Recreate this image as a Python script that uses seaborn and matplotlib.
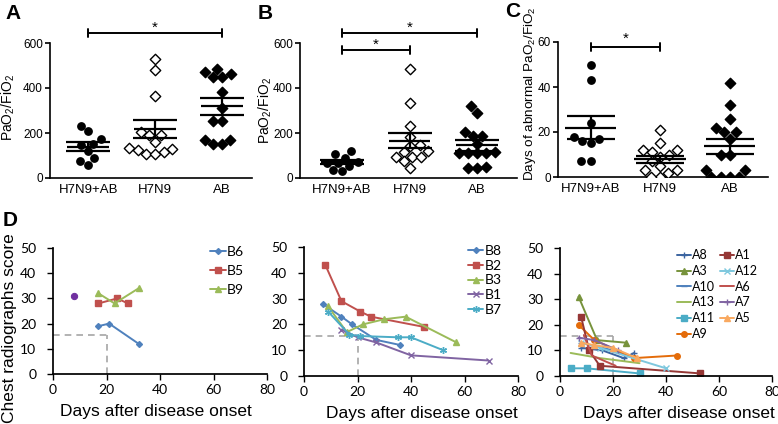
import numpy as np
import pandas as pd
import matplotlib
matplotlib.use("Agg")
import matplotlib.pyplot as plt
import seaborn as sns

# ---------------- data ----------------
groups = ["H7N9+AB", "H7N9", "AB"]

# A: PaO2/FiO2 at admission
a_h7n9_ab = [233, 207, 175, 151, 145, 119, 89, 77, 59]
a_h7n9 = [530, 480, 363, 205, 190, 190, 160, 135, 130, 125, 115, 105, 105]
a_ab = [470, 484, 450, 450, 460, 380, 310, 255, 255, 170, 170, 150, 150]

# B: lowest PaO2/FiO2
b_h7n9_ab = [122, 105, 90, 70, 68, 65, 55, 35, 33]
b_h7n9 = [486, 333, 233, 180, 145, 141, 114, 118, 95, 95, 95, 75, 45]
b_ab = [318, 289, 203, 185, 185, 150, 111, 111, 111, 111, 114, 47, 44, 44]

# C: days of abnormal PaO2/FiO2
c_h7n9_ab = [50, 43, 24, 18, 17, 16, 15, 7, 7]
c_h7n9 = [21, 15, 12, 12, 11, 10, 9, 7, 5, 3, 3, 2, 0, 0]
c_ab = [42, 32, 26, 22, 20, 20, 17, 10, 10, 3, 3, 0, 0, 0, 0]

# significance brackets: (from, to, height, star height)
a_sig = [(0, 2, 643, 668)]
b_sig = [(0, 2, 643, 668), (0, 1, 567, 592)]
c_sig = [(0, 1, 57.7, 61.5)]

# D: chest radiograph scores (days, score)
d1_series = {
    "B6": ([17, 21, 32], [19, 20, 12]),
    "B5": ([17, 24, 28], [28, 30, 28]),
    "B9": ([17, 23, 32], [32, 28, 34]),
}
d1_single = ([8], [31])

d2_series = {
    "B8": ([7, 14, 18, 27, 36], [28, 23, 20, 14, 12]),
    "B2": ([8, 14, 21, 25, 45], [43, 29, 25, 23, 19]),
    "B3": ([9, 16, 22, 30, 38, 57], [27, 17, 20, 22, 23, 13]),
    "B1": ([14, 20, 27, 40, 69], [18, 15, 13, 8, 6]),
    "B7": ([9, 17, 21, 35, 40, 52], [25, 16, 15.5, 15, 15, 10]),
}

d3_series = {
    "A8": ([8, 16, 24, 28], [11, 10, 7, 9]),
    "A3": ([7, 14, 25], [31, 14, 13]),
    "A10": ([8, 20, 28], [13, 10, 7]),
    "A13": ([4, 15, 30], [9, 7, 5]),
    "A11": ([4, 10, 30], [3, 3, 1]),
    "A9": ([7, 13, 28, 44], [20, 14, 7, 8]),
    "A1": ([8, 11, 15, 53], [23, 10, 4, 1]),
    "A12": ([8, 15, 40], [13, 11, 3]),
    "A6": ([9, 12, 21], [16, 8, 4]),
    "A7": ([7, 13, 22], [15, 14, 10]),
    "A5": ([8, 13, 20, 29], [13, 12, 11, 7]),
}
cutoff_day = 20
cutoff_score = 15.5

# ---------------- styling ----------------
sns.set_theme(style="ticks")
plt.rcParams["font.family"] = ["Liberation Sans", "DejaVu Sans"]
plt.rcParams["mathtext.fontset"] = "custom"
plt.rcParams["mathtext.rm"] = "Liberation Sans"
plt.rcParams["mathtext.it"] = "Liberation Sans:italic"
for k in ["text.color", "axes.labelcolor", "xtick.color", "ytick.color", "axes.edgecolor"]:
    plt.rcParams[k] = "black"

series_style = {
    "B6": dict(color="#4F81BD", marker="D", ms=3),
    "B5": dict(color="#C0504D", marker="s", ms=4.5),
    "B9": dict(color="#9BBB59", marker="^", ms=4.5),
    "B8": dict(color="#4F81BD", marker="D", ms=3),
    "B2": dict(color="#C0504D", marker="s", ms=4.5),
    "B3": dict(color="#9BBB59", marker="^", ms=4.5),
    "B1": dict(color="#8064A2", marker="x", ms=4),
    "B7": dict(color="#4BACC6", marker=(6, 2, 0), ms=5),
    "A8": dict(color="#3B64A0", marker="+", ms=4),
    "A3": dict(color="#77933C", marker="^", ms=4),
    "A10": dict(color="#4F81BD", marker="_", ms=5),
    "A13": dict(color="#9BBB59", marker="", ms=0),
    "A11": dict(color="#4BACC6", marker="s", ms=4),
    "A9": dict(color="#E46C0A", marker="o", ms=4),
    "A1": dict(color="#953735", marker="s", ms=4),
    "A12": dict(color="#7EC8DE", marker="x", ms=4),
    "A6": dict(color="#C0504D", marker="", ms=0),
    "A7": dict(color="#8064A2", marker="+", ms=4),
    "A5": dict(color="#F9A960", marker="^", ms=4),
}

W, H = 778, 424
fig = plt.figure(figsize=(W / 100, H / 100), dpi=100)


def px_axes(left, top, right, bottom):
    return fig.add_axes([left / W, 1 - bottom / H, (right - left) / W, (bottom - top) / H])


group_style = {
    "H7N9+AB": dict(marker="o", color="black", size=5.3),
    "H7N9": dict(marker="D", color="white", size=5.3),
    "AB": dict(marker="D", color="black", size=5.3),
}


def scatter_panel(ax, values, ylim, yticks, ylabel, sig, xlim, half_mean, cap, label_xy,
                  label_fs=10):
    df = pd.DataFrame(
        [(g, v) for g, vals in zip(groups, values) for v in vals], columns=["group", "value"]
    )
    for g in groups:
        st = group_style[g]
        sns.swarmplot(data=df[df["group"] == g], x="group", y="value", order=groups, ax=ax,
                      marker=st["marker"], color=st["color"], size=st["size"],
                      edgecolor="black", linewidth=1, zorder=3)
    stats = df.groupby("group")["value"].agg(["mean", "sem"]).reindex(groups)
    for i, g in enumerate(groups):
        m, s = stats.loc[g, "mean"], stats.loc[g, "sem"]
        ax.hlines(m, i - half_mean, i + half_mean, color="black", lw=1.6, zorder=5)
        ax.errorbar(i, m, yerr=s, color="black", capsize=cap, elinewidth=1.6,
                    capthick=1.6, zorder=5, fmt="none")
    for x0, x1, y, ys in sig:
        tick = (ylim[1] - ylim[0]) * 0.03
        ax.plot([x0, x1], [y, y], color="black", lw=1.4, clip_on=False)
        for xx in (x0, x1):
            ax.plot([xx, xx], [y - tick, y + tick], color="black", lw=1.4, clip_on=False)
        ax.text((x0 + x1) / 2, ys, "*", ha="center", va="center", fontsize=11)
    ax.set_xlim(*xlim)
    ax.set_ylim(*ylim)
    ax.set_yticks(yticks)
    ax.set_xlabel("")
    ax.set_ylabel(ylabel, fontsize=label_fs)
    ax.yaxis.set_label_coords(*label_xy)
    ax.tick_params(axis="y", length=3.5, width=1.2, pad=1.5, labelsize=8.5)
    ax.tick_params(axis="x", length=0, pad=4, labelsize=9.5)
    for sp in ["left", "bottom"]:
        ax.spines[sp].set_linewidth(1.2)
    sns.despine(ax=ax)


axA = px_axes(50, 43, 252, 178)
scatter_panel(axA, [a_h7n9_ab, a_h7n9, a_ab], (0, 600), [0, 200, 400, 600],
              "PaO$_2$/FiO$_2$", a_sig, (-0.57, 2.45), 0.31, 16, (-0.163, 0.52))
axB = px_axes(300, 43, 517, 178)
scatter_panel(axB, [b_h7n9_ab, b_h7n9, b_ab], (0, 600), [0, 200, 400, 600],
              "PaO$_2$/FiO$_2$", b_sig, (-0.62, 2.59), 0.31, 16, (-0.12, 0.5))
axC = px_axes(558, 42, 768, 177)
scatter_panel(axC, [c_h7n9_ab, c_h7n9, c_ab], (0, 60), [0, 20, 40, 60],
              "Days of abnormal PaO$_2$/FiO$_2$", c_sig, (-0.47, 2.55), 0.37, 17,
              (-0.095, 0.62), label_fs=9.7)


def line_panel(ax, series, legend_anchor, ncol, labelspacing, xlabel_x, fs=10):
    for name, (days, score) in series.items():
        st = series_style[name]
        sns.lineplot(x=days, y=score, ax=ax, color=st["color"], marker=st["marker"] or None,
                     markersize=st["ms"], markeredgecolor=st["color"], markeredgewidth=1,
                     lw=1.4, label=name, legend=False)
    ax.plot([0, cutoff_day], [cutoff_score, cutoff_score], ls=(0, (4, 3)), color="#A6A6A6",
            lw=1.2, zorder=0)
    ax.plot([cutoff_day, cutoff_day], [0, cutoff_score], ls=(0, (4, 3)), color="#A6A6A6",
            lw=1.2, zorder=0)
    ax.set_xlim(0, 80)
    ax.set_ylim(0, 50)
    ax.set_xticks([0, 20, 40, 60, 80])
    ax.set_yticks([0, 10, 20, 30, 40, 50])
    for lab in ax.get_xticklabels() + ax.get_yticklabels():
        lab.set_fontfamily(["Lato", "DejaVu Sans"])
    ax.tick_params(axis="y", length=4, width=1, pad=8, labelsize=10)
    ax.tick_params(axis="x", length=4, width=1, pad=3, labelsize=10)
    ax.set_xlabel("Days after disease onset", fontsize=12.5)
    ax.xaxis.set_label_coords(xlabel_x, -0.235)
    sns.despine(ax=ax)
    handles, labels = ax.get_legend_handles_labels()
    ax.legend(handles, labels, loc="upper left", bbox_to_anchor=legend_anchor, ncol=ncol,
              frameon=False, handlelength=1.1, handletextpad=0.1, columnspacing=0.4,
              labelspacing=labelspacing, borderaxespad=0,
              prop={"family": ["Lato", "DejaVu Sans"], "size": fs})


axD1 = px_axes(53, 248, 267, 374)
sns.lineplot(x=d1_single[0], y=d1_single[1], ax=axD1, color="#7030A0", marker="o",
             markersize=4.5, markeredgecolor="#7030A0", lw=0, legend=False)
line_panel(axD1, d1_series, (0.71, 1.06), 1, 0.5, 0.48)
axD1.set_ylabel("Chest radiographs score", fontsize=12.5)
axD1.yaxis.set_label_coords(-0.168, 0.365)

axD2 = px_axes(304, 247, 518, 376)
line_panel(axD2, d2_series, (0.74, 1.06), 1, 0.2, 0.55)

axD3 = px_axes(560, 248, 772, 376)
line_panel(axD3, d3_series, (0.53, 1.03), 2, 0.3, 0.56, fs=9)

for letter, x, y in [("A", 5, 4), ("B", 258, 4), ("C", 505, 2), ("D", 3, 211)]:
    fig.text(x / W, 1 - y / H, letter, fontsize=15, fontweight="bold", va="top", ha="left")

fig.savefig("out.png", dpi=100)
